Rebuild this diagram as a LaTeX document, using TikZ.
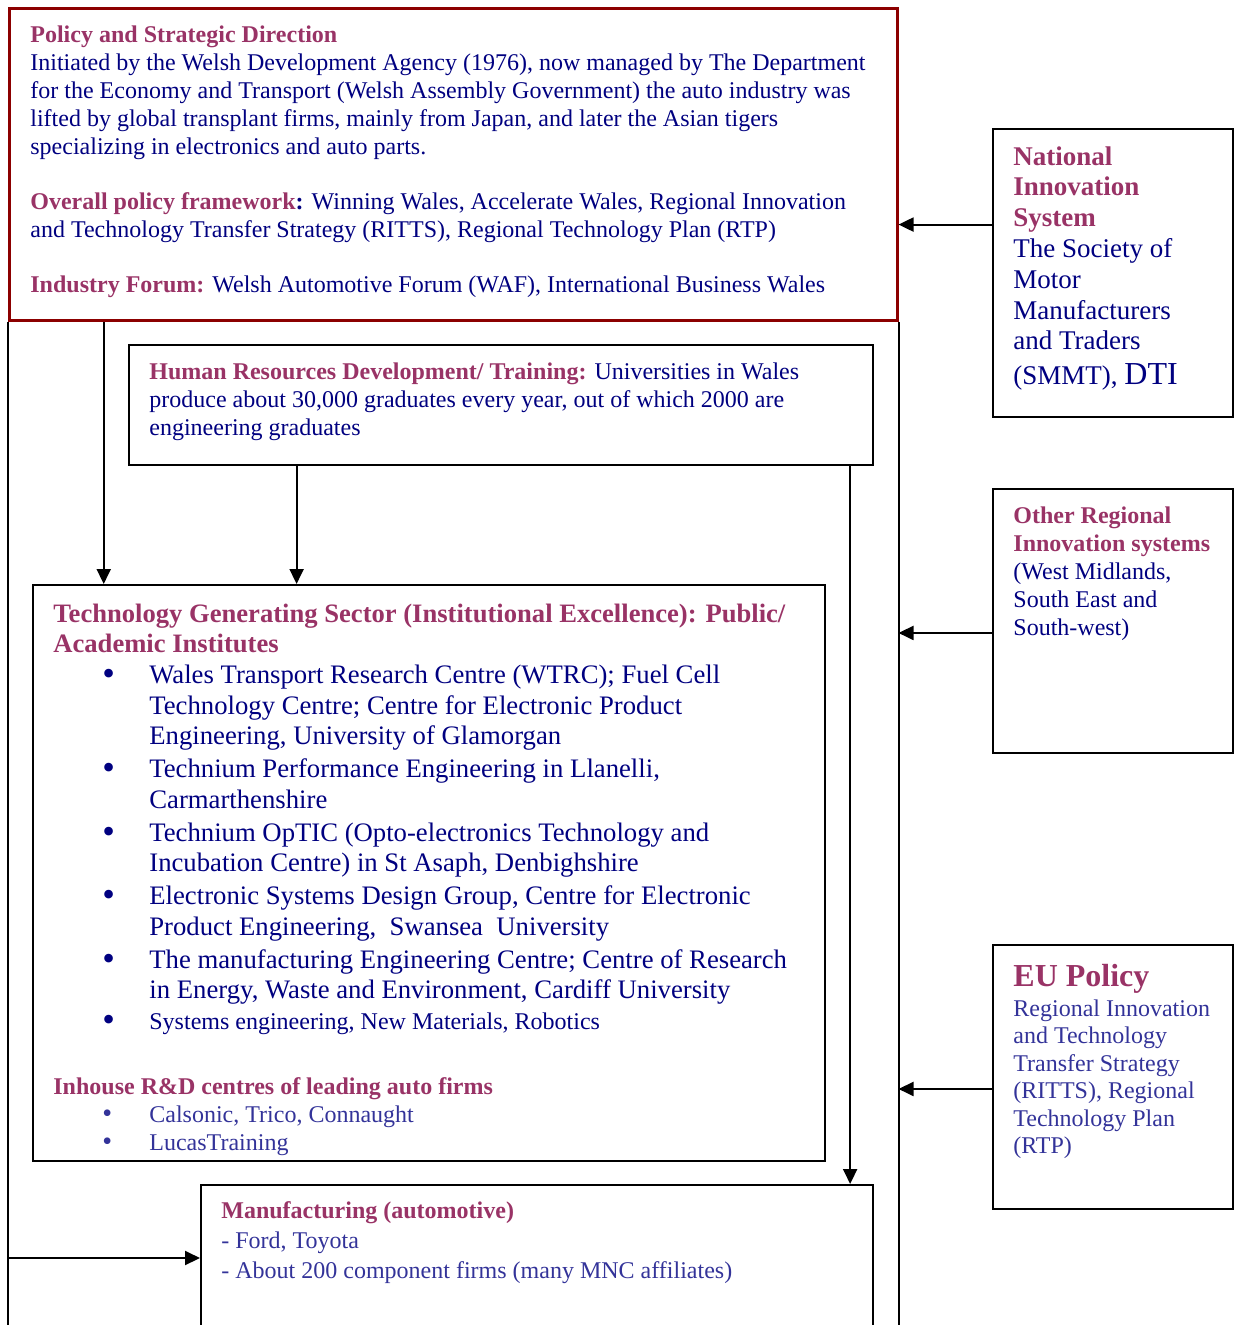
\documentclass[tikz,border=0pt]{standalone}
\usepackage{fontspec}
\setmainfont{Liberation Serif}
\usepackage{tikz}
\usetikzlibrary{arrows.meta,calc,fit}
\definecolor{plum}{RGB}{153,51,102}
\definecolor{navyblue}{RGB}{0,0,128}
\definecolor{indigoblue}{RGB}{51,51,153}
\definecolor{boxred}{RGB}{140,0,0}
\newcommand{\bul}{\makebox[23.5pt][l]{\smash{\raisebox{-0.8pt}{\fontsize{18}{18}\selectfont\textbullet}}}}
\newcommand{\bulsm}{\makebox[23.5pt][l]{\fontsize{14}{14}\selectfont\textbullet}}
\newcommand{\hd}[1]{\textcolor{plum}{\bfseries #1}}

\begin{document}
\begin{tikzpicture}[x=0.5pt,y=-0.5pt,
	box/.style={draw, line width=1pt, inner sep=0pt},
	txt/.style={anchor=north west, inner sep=0pt, align=left, text=navyblue, font=\fontsize{12}{14}\selectfont},
	arr/.style={line width=1pt, -{Triangle[length=7.5pt,width=7pt]}}]
		\useasboundingbox (0,0) rectangle (1234,1325);
		\coordinate (bot) at (0,1325);
		\node[box, draw=boxred, line width=1.5pt, fit={(9,9) (897,321)}] (policy) {};
		\node[box, fit={(129,345) (873,465)}] (hrd) {};
		\node[box, fit={(33,585) (825,1161)}] (tech) {};
		\node[box, fit={(201,1185) (873,1331)}] (mfg) {};
		\node[box, fit={(993,129) (1233,417)}] (nis) {};
		\node[box, fit={(993,489) (1233,753)}] (other) {};
		\node[box, fit={(993,945) (1233,1209)}] (eu) {};
		
		\node[txt] (policytxt) at (30,25) {\hd{Policy and Strategic Direction}\\
			Initiated by the Welsh Development Agency (1976), now managed by The Department\\
			for the Economy and Transport (Welsh Assembly Government) the auto industry was\\
			lifted by global transplant firms, mainly from Japan, and later the Asian tigers\\
			specializing in electronics and auto parts.\\[13.5pt]
			\hd{Overall policy framework}\textbf{:} Winning Wales, Accelerate Wales, Regional Innovation\\
			and Technology Transfer Strategy (RITTS), Regional Technology Plan (RTP)\\[13.5pt]
			\hd{Industry Forum:} Welsh Automotive Forum (WAF), International Business Wales};
		\node[txt, font=\fontsize{13.5}{15.4}\selectfont] (nistxt) at (1013,146) {\hd{National}\\ \hd{Innovation}\\ \hd{System}\\
			The Society of\\ Motor\\ Manufacturers\\ and Traders\\[2pt] (SMMT), {\fontsize{16}{18}\selectfont DTI}};
		\node[txt] (hrdtxt) at (149,362) {\hd{Human Resources Development/ Training:} Universities in Wales\\
			produce about 30,000 graduates every year, out of which 2000 are\\
			engineering graduates};
		\node[txt, text=plum, font=\fontsize{13.3}{15}\selectfont\bfseries] (techhead) at (53,604) {Technology Generating Sector (Institutional Excellence): Public/\\ Academic Institutes};
		\node[txt, font=\fontsize{13.35}{15.25}\selectfont] (techlist) at (102,665) {\bul Wales Transport Research Centre (WTRC); Fuel Cell\\
			\hspace*{23.5pt}Technology Centre; Centre for Electronic Product\\
			\hspace*{23.5pt}Engineering, University of Glamorgan\\[1.25pt]
			\bul Technium Performance Engineering in Llanelli,\\
			\hspace*{23.5pt}Carmarthenshire\\[1.25pt]
			\bul Technium OpTIC (Opto-electronics Technology and\\
			\hspace*{23.5pt}Incubation Centre) in St Asaph, Denbighshire\\[1.25pt]
			\bul Electronic Systems Design Group, Centre for Electronic\\
			\hspace*{23.5pt}Product Engineering,\ \ Swansea\ \ University\\[1.25pt]
			\bul The manufacturing Engineering Centre; Centre of Research\\
			\hspace*{23.5pt}in Energy, Waste and Environment, Cardiff University\\
			\bul{\fontsize{12}{14}\selectfont Systems engineering, New Materials, Robotics}};
		\node[txt, text=indigoblue] (inhousetxt) at (53,1077) {\hd{Inhouse R\&D centres of leading auto firms}\\
			\hspace*{24.5pt}\bulsm Calsonic, Trico, Connaught\\
			\hspace*{24.5pt}\bulsm LucasTraining};
		\node[txt] (othertxt) at (1013,506) {\hd{Other Regional}\\ \hd{Innovation systems}\\ (West Midlands,\\ South East and\\ South-west)};
		\node[txt, text=plum, font=\fontsize{16}{18}\selectfont\bfseries] (euhead) at (1013,964) {EU Policy};
		\node[txt, text=indigoblue, font=\fontsize{12}{13.75}\selectfont] (eutxt) at (1013,999) {Regional Innovation\\ and Technology\\ Transfer Strategy\\ (RITTS), Regional\\ Technology Plan\\ (RTP)};
		\node[txt, text=indigoblue, font=\fontsize{12}{15}\selectfont] (mfgtxt) at (221,1201) {\hd{Manufacturing (automotive)}\\ - Ford, Toyota\\ - About 200 component firms (many MNC affiliates)};
		
		\coordinate (p1) at ($(policy.south west)!0.108!(policy.south east)$);
		\coordinate (h1) at ($(hrd.south west)!0.226!(hrd.south east)$);
		\coordinate (h2) at ($(hrd.south west)!0.968!(hrd.south east)$);
		\coordinate (n1) at ($(nis.north west)!0.333!(nis.south west)$);
		\coordinate (o1) at ($(other.north west)!0.545!(other.south west)$);
		\coordinate (e1) at ($(eu.north west)!0.545!(eu.south west)$);
		\draw[line width=1pt] (policy.south west) -- (policy.south west |- bot);
		\draw[line width=1pt] (policy.south east) -- (policy.south east |- bot);
		\draw[arr] (p1) -- (p1 |- tech.north);
		\draw[arr] (h1) -- (h1 |- tech.north);
		\draw[arr] (h2) -- (h2 |- mfg.north);
		\draw[arr] (mfg.west -| policy.south west) -- (mfg.west);
		\draw[arr] (n1) -- (n1 -| policy.east);
		\draw[arr] (o1) -- (o1 -| policy.east);
		\draw[arr] (e1) -- (e1 -| policy.east);
\end{tikzpicture}
\end{document}
